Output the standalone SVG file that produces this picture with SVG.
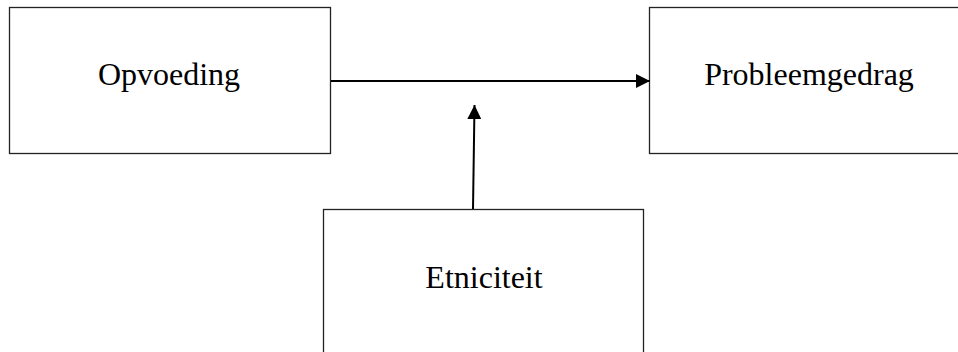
<svg xmlns="http://www.w3.org/2000/svg" width="958" height="352" viewBox="0 0 958 352">
<style>
.box{fill:#fff;stroke:#222;stroke-width:1.3}
.lbl{font-family:"Liberation Serif",serif;font-size:32px;fill:#000;text-anchor:middle}
.conn{stroke:#000;stroke-width:2;fill:none}
</style>
<defs>
<marker id="ah" markerUnits="userSpaceOnUse" markerWidth="14" markerHeight="14" viewBox="0 0 14 14" refX="14" refY="7" orient="auto">
<path d="M0,0 L14,7 L0,14 Z" fill="#000"/>
</marker>
</defs>
<g id="opvoeding"><rect class="box" x="9.5" y="7.5" width="321" height="146"/><text class="lbl" x="169" y="85">Opvoeding</text></g>
<g id="probleemgedrag"><rect class="box" x="649.5" y="7.5" width="320" height="146"/><text class="lbl" x="809" y="85">Probleemgedrag</text></g>
<g id="etniciteit"><rect class="box" x="323.5" y="209.5" width="320" height="160"/><text class="lbl" x="484" y="288">Etniciteit</text></g>
<g id="connectors">
<line class="conn" x1="331" y1="81" x2="650" y2="81" marker-end="url(#ah)"/>
<line class="conn" x1="473" y1="209" x2="474.5" y2="105" marker-end="url(#ah)"/>
</g>
</svg>
